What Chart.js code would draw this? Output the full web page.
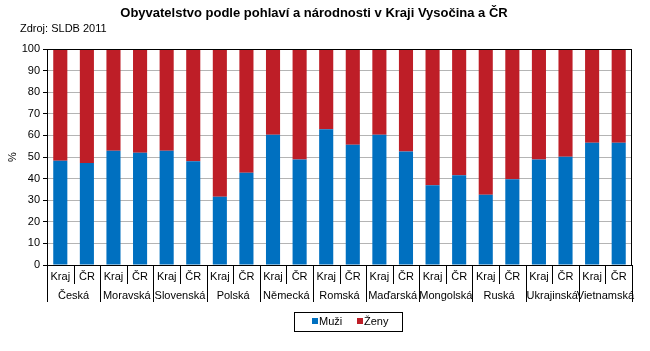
<!DOCTYPE html>
<html lang="cs">
<head>
<meta charset="UTF-8">
<title>Obyvatelstvo podle pohlaví a národnosti</title>
<script src="https://cdn.jsdelivr.net/npm/chart.js"></script>
<style>
  body { margin: 0; background: #fff; }
  .wrap { width: 650px; height: 351px; position: relative; }
</style>
</head>
<body>
<div class="wrap"><canvas id="chart" width="650" height="351"></canvas></div>
<script>
// data (% of each nationality)
const groups = ['Česká', 'Moravská', 'Slovenská', 'Polská', 'Německá', 'Romská',
  'Maďarská', 'Mongolská', 'Ruská', 'Ukrajinská', 'Vietnamská'];
const areas = ['Kraj', 'ČR'];
const muzi = [48.3, 47.2, 52.9, 52.0, 52.9, 48.0, 31.6, 42.7, 60.3, 48.9, 62.8,
  55.7, 60.3, 52.6, 36.9, 41.5, 32.5, 39.7, 48.9, 50.1, 56.6, 56.6];
const zeny = [51.7, 52.8, 47.1, 48.0, 47.1, 52.0, 68.4, 57.3, 39.7, 51.1, 37.2,
  44.3, 39.7, 47.4, 63.1, 58.5, 67.5, 60.3, 51.1, 49.9, 43.4, 43.4];
const yTicks = [0, 10, 20, 30, 40, 50, 60, 70, 80, 90, 100];

const labels = groups.flatMap(g => areas.map(a => a));
const FONT = '"Liberation Sans", Arial, sans-serif';

// kreslí titulek, dvouúrovňové popisky osy X a legendu s rámečkem
const extras = {
  id: 'extras',
  afterDraw(chart) {
    const { ctx, chartArea: ca } = chart;
    const xs = chart.scales.x;
    ctx.save();
    ctx.strokeStyle = '#000';
    ctx.lineWidth = 1;
    ctx.strokeRect(Math.round(ca.left) + 0.5, Math.round(ca.top) + 0.5,
      Math.round(ca.right - ca.left) - 1, Math.round(ca.bottom - ca.top));

    const step = xs.getPixelForValue(1) - xs.getPixelForValue(0);
    const base = Math.round(ca.bottom);
    ctx.beginPath();
    for (let i = 0; i <= labels.length; i++) {
      const x = Math.round(xs.getPixelForValue(i) - step / 2) + 0.5;
      const end = i % 2 === 0 ? base + 37 : base + 19;
      ctx.moveTo(x, base);
      ctx.lineTo(x, end);
    }
    ctx.stroke();

    ctx.fillStyle = '#000';
    ctx.font = '11px ' + FONT;
    ctx.textAlign = 'center';
    ctx.textBaseline = 'middle';
    labels.forEach((l, i) => ctx.fillText(l, xs.getPixelForValue(i), base + 12));
    groups.forEach((g, i) => {
      const x = (xs.getPixelForValue(2 * i) + xs.getPixelForValue(2 * i + 1)) / 2;
      ctx.fillText(g, x, base + 31);
    });

    ctx.font = 'bold 13px ' + FONT;
    ctx.fillText('Obyvatelstvo podle pohlaví a národnosti v Kraji Vysočina a ČR', 314, 13);
    ctx.font = '11px ' + FONT;
    ctx.textAlign = 'left';
    ctx.fillText('Zdroj: SLDB 2011', 20, 29);

    // legenda
    ctx.strokeRect(294.5, 312.5, 108, 19);
    let lx = 312;
    chart.data.datasets.forEach(ds => {
      ctx.fillStyle = ds.backgroundColor;
      ctx.fillRect(lx, 318, 6, 6);
      ctx.fillStyle = '#000';
      ctx.fillText(ds.label, lx + 7, 322);
      lx += 45;
    });
    ctx.restore();
  }
};

new Chart(document.getElementById('chart'), {
  type: 'bar',
  data: {
    labels: labels,
    datasets: [
      { label: 'Muži', data: muzi, backgroundColor: '#0070C0' },
      { label: 'Ženy', data: zeny, backgroundColor: '#BE1E27' }
    ]
  },
  options: {
    responsive: false,
    animation: false,
    layout: { padding: { top: 49, right: 18, bottom: 86, left: 0 } },
    datasets: { bar: { barPercentage: 0.53, categoryPercentage: 1 } },
    plugins: { legend: { display: false }, title: { display: false }, tooltip: { enabled: false } },
    scales: {
      x: {
        stacked: true,
        ticks: { display: false },
        grid: { display: false },
        border: { display: false },
        afterFit: s => { s.height = 0; }
      },
      y: {
        stacked: true,
        min: 0,
        max: 100,
        afterBuildTicks: s => { s.ticks = yTicks.map(v => ({ value: v })); },
        ticks: { color: '#000', font: { size: 11, family: FONT }, padding: 3 },
        grid: { color: '#b4b4b4', tickColor: '#000', tickLength: 4 },
        border: { color: '#000' },
        title: { display: true, text: '%', color: '#000', font: { size: 11, family: FONT }, padding: { top: 6, bottom: 0 } },
        afterFit: s => { s.width = 47; }
      }
    }
  },
  plugins: [extras]
});
</script>
</body>
</html>
